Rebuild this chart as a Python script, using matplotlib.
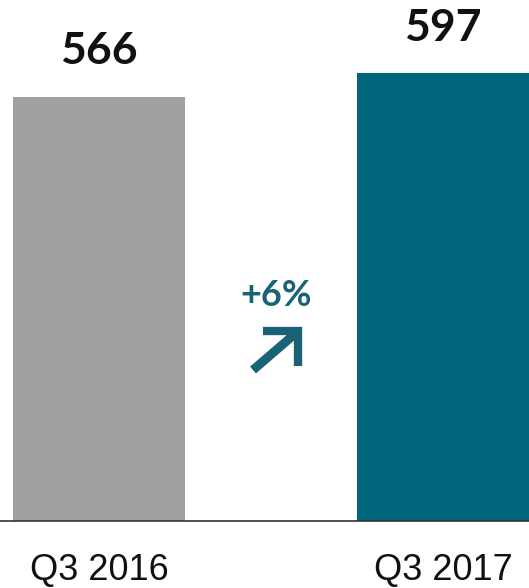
import matplotlib
matplotlib.use("Agg")
import matplotlib.pyplot as plt
from matplotlib.lines import Line2D

categories = ["Q3 2016", "Q3 2017"]
values = [566, 597]
colors = ["#A0A0A0", "#00667E"]
change_label = "+6%"

W, H = 529, 588
fig = plt.figure(figsize=(W / 100, H / 100), dpi=100)
base_px = 521
ax = fig.add_axes([0, (H - base_px) / H, 1, base_px / H])
x = list(range(len(categories)))
ax.bar(x, values, width=0.5, color=colors)
ax.set_xlim(-0.288, 1.25)
ax.set_ylim(0, base_px / 0.75)
for s in ["top", "right", "left"]:
    ax.spines[s].set_visible(False)
ax.spines["bottom"].set_color("#333333")
ax.spines["bottom"].set_linewidth(1.2)
ax.set_yticks([])
ax.set_xticks(x)
ax.set_xticklabels(categories, fontsize=26, family="Liberation Sans", color="#111111")
ax.tick_params(axis="x", length=0, pad=23)

for xi, v in zip(x, values):
    ax.annotate(f"{v}", (xi, v), xytext=(0, 18), textcoords="offset points",
                ha="center", va="bottom", fontsize=32, fontweight="bold",
                family="Lato", color="#111111")

teal = "#1A6275"
fig.text(276 / W, 1 - 296 / H, change_label, ha="center", va="center",
         fontsize=26, fontweight="bold", family="Lato", color=teal)

def fp(px, py):
    return px / W, 1 - py / H

hx, hy = zip(fp(263, 331), fp(298, 331), fp(298, 366))
fig.add_artist(Line2D(hx, hy, transform=fig.transFigure, color=teal,
                      linewidth=6, solid_joinstyle="miter", solid_capstyle="butt"))
sx, sy = zip(fp(253, 370), fp(296, 333))
fig.add_artist(Line2D(sx, sy, transform=fig.transFigure, color=teal,
                      linewidth=6.5, solid_capstyle="butt"))

fig.savefig("out.png", dpi=100)
